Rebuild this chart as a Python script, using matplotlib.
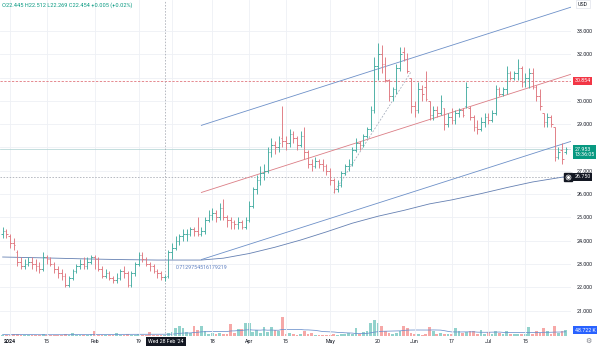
import numpy as np
import pandas as pd
import matplotlib
matplotlib.use("Agg")
import matplotlib.pyplot as plt

plt.rcParams['font.family'] = ['Roboto', 'DejaVu Sans']

# ---- daily bars -------------------------------------------------------------
dates = pd.bdate_range("2023-12-28", "2024-07-30")

opens = [24.3, 24.4, 24.2, 23.9, 23.5, 23.1, 22.9, 23.0, 23.1, 23.0, 22.9, 22.8,
         23.3, 23.2, 23.0, 22.8, 22.6, 22.5, 22.1, 22.4, 22.7, 22.9,
         23.0, 22.9, 23.1, 23.3, 23.2, 22.8, 22.5, 22.6, 22.4, 22.3,
         22.4, 22.7, 22.6, 22.1, 22.6, 23.0, 23.4, 23.2, 23.0, 22.9,
         22.7, 22.6, 22.445, 22.5, 23.5, 23.7, 24.0, 24.2, 24.3, 24.3,
         24.5, 24.4, 24.3, 24.4, 24.9, 25.1, 25.2, 25.0, 25.4, 25.0,
         24.9, 24.8, 24.7, 24.8, 24.6, 24.9, 25.5, 26.2, 26.6, 26.9,
         27.0, 27.8, 28.1, 28.0, 28.4, 28.3, 28.2, 28.6, 28.4, 28.1,
         28.5, 27.8, 27.3, 27.2, 27.4, 27.3, 27.2, 27.0, 26.6, 26.2,
         26.4, 26.9, 27.2, 27.3, 27.9, 28.2, 28.1, 28.5, 28.8, 29.6,
         31.5, 32.0, 31.6, 30.9, 30.2, 30.5, 31.4, 32.1, 31.8, 31.0,
         29.8, 29.6, 30.5, 30.6, 30.0, 29.4, 29.6, 29.5, 29.7, 29.0,
         29.3, 29.2, 29.5, 29.6, 29.8, 29.7, 29.3, 28.9, 28.8, 29.1,
         29.3, 29.2, 29.5, 30.5, 30.3, 30.5, 31.2, 31.0, 31.2, 31.4,
         30.8, 31.0, 31.2, 30.6, 30.2, 29.5, 29.1, 29.3, 28.9, 27.6, 27.9, 27.8]

highs = [24.6, 24.5, 24.3, 24.1, 23.6, 23.3, 23.2, 23.3, 23.3, 23.2, 23.1, 23.5,
         23.4, 23.3, 23.1, 22.9, 22.8, 22.6, 22.5, 22.8, 23.0, 23.2,
         23.3, 23.3, 23.4, 23.4, 23.3, 22.9, 22.8, 22.7, 22.5, 22.6,
         22.8, 22.9, 22.7, 22.7, 23.1, 23.5, 23.5, 23.3, 23.1, 23.0,
         22.8, 22.7, 22.512, 23.6, 23.9, 24.2, 24.3, 24.5, 24.5, 24.6,
         24.6, 25.0, 24.6, 25.0, 25.3, 25.4, 25.3, 25.6, 25.8, 25.1,
         25.0, 24.9, 25.0, 24.9, 25.0, 25.7, 26.3, 26.8, 27.2, 27.3,
         28.0, 28.4, 28.3, 28.5, 29.8, 28.5, 28.8, 28.7, 28.5, 28.7,
         28.9, 27.9, 27.5, 27.6, 27.5, 27.5, 27.3, 27.1, 26.7, 26.6,
         27.0, 27.3, 27.5, 28.0, 28.4, 28.3, 28.6, 28.9, 29.8, 31.9,
         32.5, 32.4, 31.9, 30.95, 30.6, 31.6, 32.3, 32.3, 32.05, 31.0,
         30.0, 30.8, 30.7, 31.3, 30.0, 29.8, 29.8, 30.25, 29.7, 29.5,
         29.7, 29.6, 29.7, 29.7, 30.8, 29.8, 29.4, 29.2, 29.3, 29.5,
         29.5, 29.6, 30.7, 30.6, 30.6, 31.5, 31.3, 31.3, 31.8, 31.5,
         31.2, 31.4, 31.4, 30.7, 30.5, 29.5, 29.5, 29.4, 28.9, 28.0, 28.2, 28.0]

lows = [24.1, 24.1, 23.7, 23.6, 22.9, 22.8, 22.8, 22.9, 22.8, 22.7, 22.6, 22.7,
        23.0, 22.9, 22.6, 22.4, 22.3, 22.0, 22.0, 22.3, 22.6, 22.8,
        22.8, 22.8, 23.0, 22.8, 22.7, 22.4, 22.4, 22.3, 22.2, 22.2,
        22.3, 22.4, 22.0, 22.0, 22.5, 22.9, 23.1, 22.9, 22.7, 22.6,
        22.4, 22.3, 22.269, 22.4, 23.2, 23.6, 23.8, 24.0, 24.0, 24.2,
        24.2, 24.2, 24.2, 24.3, 24.8, 24.9, 24.8, 24.9, 24.9, 24.6,
        24.5, 24.5, 24.5, 24.5, 24.5, 24.8, 25.4, 26.0, 26.4, 26.6,
        26.9, 27.6, 27.7, 27.8, 28.0, 27.9, 28.0, 28.2, 27.9, 28.0,
        27.5, 27.1, 27.0, 27.1, 27.1, 27.0, 26.8, 26.4, 26.05, 26.1,
        26.3, 26.8, 27.0, 27.2, 27.8, 27.9, 28.0, 28.4, 28.7, 29.5,
        30.9, 31.2, 30.8, 30.0, 30.0, 30.3, 31.3, 31.7, 31.2, 29.5,
        29.3, 29.5, 30.0, 30.0, 29.2, 29.2, 29.3, 29.4, 28.75, 28.9,
        29.0, 29.0, 29.3, 29.3, 29.7, 29.2, 28.7, 28.6, 28.7, 28.9,
        29.0, 29.1, 29.4, 30.2, 30.2, 30.3, 30.9, 30.9, 30.9, 30.6,
        30.6, 30.55, 30.5, 30.0, 29.6, 28.9, 28.9, 28.9, 27.4, 27.5, 27.3, 27.7]

closes = [24.4, 24.3, 23.9, 23.8, 23.1, 22.9, 23.0, 23.1, 23.0, 22.9, 22.8, 23.3,
          23.2, 23.0, 22.8, 22.6, 22.5, 22.1, 22.4, 22.7, 22.9, 23.0,
          22.9, 23.1, 23.3, 23.2, 22.8, 22.5, 22.6, 22.4, 22.3, 22.4,
          22.7, 22.6, 22.1, 22.6, 23.0, 23.4, 23.2, 23.0, 22.9, 22.7,
          22.6, 22.449, 22.454, 23.5, 23.7, 24.0, 24.2, 24.3, 24.3, 24.5,
          24.4, 24.3, 24.4, 24.9, 25.1, 25.2, 25.0, 25.4, 25.0, 24.9,
          24.8, 24.7, 24.8, 24.6, 24.9, 25.5, 26.2, 26.6, 26.9, 27.0,
          27.8, 28.1, 28.0, 28.2, 28.3, 28.2, 28.6, 28.4, 28.1, 28.5,
          27.8, 27.3, 27.2, 27.4, 27.3, 27.2, 27.0, 26.6, 26.2, 26.4,
          26.9, 27.2, 27.3, 27.9, 28.2, 28.1, 28.5, 28.8, 29.6, 31.5,
          32.0, 31.6, 30.9, 30.2, 30.5, 31.4, 32.0, 31.8, 31.3, 29.8,
          29.6, 30.5, 30.3, 30.1, 29.4, 29.6, 29.5, 30.0, 29.0, 29.3,
          29.2, 29.5, 29.6, 29.4, 30.6, 29.3, 28.9, 28.8, 29.1, 29.3,
          29.2, 29.5, 30.5, 30.3, 30.5, 31.2, 31.0, 31.2, 31.4, 30.8,
          31.0, 31.2, 30.6, 30.2, 29.8, 29.1, 29.3, 29.0, 27.6, 27.8, 27.5, 27.953]

volumes_k = [12, 10, 9, 14, 16, 10, 8, 9, 11, 8, 10, 14,
             9, 8, 10, 12, 9, 14, 12, 22, 10, 9,
             8, 12, 14, 40, 12, 10, 9, 11, 10, 22,
             12, 9, 14, 12, 10, 18, 12, 10, 30, 12,
             10, 11, 9, 28, 35, 67, 80, 67, 30, 25,
             85, 45, 80, 40, 18, 25, 15, 25, 18, 20,
             100, 22, 60, 55, 107, 107, 30, 50, 25, 75,
             30, 70, 50, 40, 155, 20, 22, 15, 12, 14,
             40, 18, 25, 12, 10, 12, 9, 11, 14, 12,
             15, 20, 25, 18, 67, 20, 30, 40, 107, 130,
             107, 80, 40, 22, 18, 25, 40, 80, 67, 25,
             18, 15, 12, 20, 75, 40, 15, 25, 18, 14,
             20, 67, 40, 25, 30, 40, 40, 20, 50, 18,
             30, 15, 40, 25, 18, 40, 15, 20, 18, 14,
             20, 72, 20, 40, 25, 67, 40, 20, 80, 25, 40, 48.722]

# long moving average, sampled along the curve
ma_dates = ["2023-12-28", "2024-01-15", "2024-01-29", "2024-02-12", "2024-02-26",
            "2024-03-13", "2024-03-21", "2024-04-01", "2024-04-10", "2024-04-19",
            "2024-04-30", "2024-05-09", "2024-05-20", "2024-05-29", "2024-06-07",
            "2024-06-17", "2024-06-27", "2024-07-08", "2024-07-17", "2024-07-30"]
ma_values = [23.30, 23.26, 23.22, 23.19, 23.17,
             23.17, 23.25, 23.45, 23.72, 24.03,
             24.38, 24.75, 25.05, 25.30, 25.58,
             25.75, 26.02, 26.28, 26.52, 26.75]

# regression channel
channel_start, channel_end = "2024-03-13", "2024-07-30"
channel_mid = (26.07, 31.07)
channel_dev = 2.88
channel_r = "0.7129754516179219"

# hand-drawn trend line
trend_pts = (("2024-05-02", 26.05), ("2024-05-31", 31.25))

alert_level = 30.854
crosshair = ("2024-02-28", 26.750)
countdown = "13:36:05"

# "Mar" sits under the crosshair date label, so only its grid line shows
tick_dates = ["2024-01-01", "2024-01-15", "2024-02-01", "2024-02-19", "2024-03-01",
              "2024-03-18", "2024-04-01", "2024-04-15", "2024-05-01", "2024-05-20",
              "2024-06-03", "2024-06-17", "2024-07-01", "2024-07-15"]
tick_labels = ["2024", "15", "Feb", "19", "", "18", "Apr", "15", "May", "20",
               "Jun", "17", "Jul", "15"]
price_ticks = list(range(21, 34))
hidden_price_ticks = [28, 31]   # covered by the last-price and alert labels

# ---- helpers ----------------------------------------------------------------
pos = {d: i for i, d in enumerate(dates)}
def xi(d):
    return pos[pd.Timestamp(d)]

o = np.array(opens); h = np.array(highs); l = np.array(lows); c = np.array(closes)
vol = pd.Series(volumes_k, dtype=float)
x = np.arange(len(dates))
up = c >= o

UP, DOWN = "#45ada2", "#e07880"
FS = 3.8

W, H = 600, 347
fig = plt.figure(figsize=(W / 100, H / 100), dpi=100)
ax = fig.add_axes([0, 11 / H, 571 / W, 336 / H])
vax = ax.twinx()
ax.set_zorder(vax.get_zorder() + 1)
ax.patch.set_visible(False)

ax.set_xlim(-0.72, 154.45)
ax.set_ylim(19.91, 34.33)
vax.set_ylim(0, 2740)
vax.set_axis_off()

# grid and scales
ax.set_xticks([xi(d) for d in tick_dates])
ax.set_xticklabels(tick_labels)
ax.set_yticks(price_ticks)
ax.set_yticklabels(["" if v in hidden_price_ticks else f"{v:.3f}" for v in price_ticks])
ax.yaxis.tick_right()
ax.grid(True, color="#eef0f5", lw=0.6)
for s in ax.spines.values():
    s.set_visible(False)
ax.tick_params(axis="both", length=0, labelsize=FS, labelcolor="#131722")
ax.tick_params(axis="x", pad=2.1)
ax.tick_params(axis="y", pad=4.4)
ax.get_xticklabels()[0].set_fontweight("bold")

# volume
vcol = np.where(up, "#26a69a", "#ef5350")
vax.bar(x, vol, width=0.75, color=vcol, alpha=0.5, lw=0)
vax.plot(x, vol.rolling(20, min_periods=1).mean(), color="#6a8fcc", lw=0.55)

# OHLC bars
cols = np.where(up, UP, DOWN)
ax.vlines(x, l, h, colors=cols, lw=0.65, zorder=4)
ax.hlines(o, x - 0.45, x, colors=cols, lw=0.65, zorder=4)
ax.hlines(c, x, x + 0.45, colors=cols, lw=0.65, zorder=4)

# moving average
ax.plot([xi(d) for d in ma_dates], ma_values, color="#6580b2", lw=0.6, zorder=3)

# regression channel (extended to the right edge)
x0, x1 = xi(channel_start), xi(channel_end)
slope = (channel_mid[1] - channel_mid[0]) / (x1 - x0)
xr = ax.get_xlim()[1]
xs = np.array([x0, xr])
mid = channel_mid[0] + slope * (xs - x0)
ax.plot(xs, mid + channel_dev, color="#6d90c8", lw=0.6, zorder=3)
ax.plot(xs, mid, color="#db7d85", lw=0.6, zorder=3)
ax.plot(xs, mid - channel_dev, color="#6d90c8", lw=0.6, zorder=3)
ax.text(x0 - 6.9, channel_mid[0] - channel_dev - 0.36, channel_r, color="#5d7fc0",
        fontsize=FS, va="center", ha="left", zorder=5)

# trend line
(ta, pa), (tb, pb) = trend_pts
ax.plot([xi(ta), xi(tb)], [pa, pb], color="#a4acbb", lw=0.55, ls=(0, (2.5, 2)), zorder=3)

# horizontal levels
ax.axhline(alert_level, color="#de6a72", lw=0.55, ls=(0, (3, 2)), zorder=2)
ax.axhline(c[-1], color="#b3d5d5", lw=0.55, zorder=2)
cx, cy = xi(crosshair[0]), crosshair[1]
ax.axhline(cy, color="#a3a7b0", lw=0.55, ls=(0, (2, 2)), zorder=2)
ax.axvline(cx, color="#a3a7b0", lw=0.55, ls=(0, (2, 2)), zorder=2)

# legend of the hovered bar
k = cx
chg = c[k] - c[k - 1]
legend = (f"O{o[k]:.3f} H{h[k]:.3f} L{l[k]:.3f} C{c[k]:.3f} "
          f"{chg:+.3f} ({chg / c[k - 1] * 100:+.2f}%)")
fig.text(2 / W, 1 - 5.5 / H, legend, fontsize=4.1, color="#089981", va="center", ha="left")

# price-scale labels
def scale_label(axis, yval, text, fc, dx=2.6, dy=0.0):
    axis.annotate(text, xy=(1, yval), xycoords=("axes fraction", "data"),
                  xytext=(dx, dy), textcoords="offset points", ha="left", va="center",
                  fontsize=FS, color="white", annotation_clip=False, zorder=10,
                  bbox=dict(boxstyle="square,pad=0.3", fc=fc, ec="none"))

scale_label(ax, alert_level, f"{alert_level:.3f}", "#f23645")
scale_label(ax, c[-1], f"{c[-1]:.3f}\n{countdown}", "#089981", dy=-2.4)
scale_label(ax, cy, f"{cy:.3f}", "#131722")
ax.plot([1 - 3.2 / 571], [cy], transform=ax.get_yaxis_transform(), marker="s",
        ms=6.3, color="#131722", clip_on=False, zorder=10)
ax.plot([1 - 3.2 / 571], [cy], transform=ax.get_yaxis_transform(), marker="o",
        ms=3.6, mfc="none", mec="white", mew=0.5, clip_on=False, zorder=11)
ax.plot([1 - 3.2 / 571], [cy], transform=ax.get_yaxis_transform(), marker="o",
        ms=1.2, color="white", clip_on=False, zorder=11)
scale_label(vax, vol.iloc[-1], f"{vol.iloc[-1]:.3f} K", "#2962ff")

# time-scale crosshair label
ax.annotate(pd.Timestamp(crosshair[0]).strftime("%a %d %b '%y"), xy=(cx, 0),
            xycoords=("data", "axes fraction"), xytext=(1, -4.1),
            textcoords="offset points", ha="center", va="center", fontsize=FS,
            color="white", annotation_clip=False, zorder=10,
            bbox=dict(boxstyle="square,pad=0.35", fc="#131722", ec="none"))

# currency and settings
fig.text(578 / W, 1 - 4 / H, "USD", fontsize=FS, color="#131722", va="center", ha="left",
         bbox=dict(boxstyle="square,pad=0.35", fc="white", ec="#e0e3eb", lw=0.5))
fig.text(588 / W, 1 - 340.5 / H, "\u2699", fontsize=5, color="#787b86", va="center",
         ha="center", family="DejaVu Sans")

fig.savefig("out.png", dpi=100)
